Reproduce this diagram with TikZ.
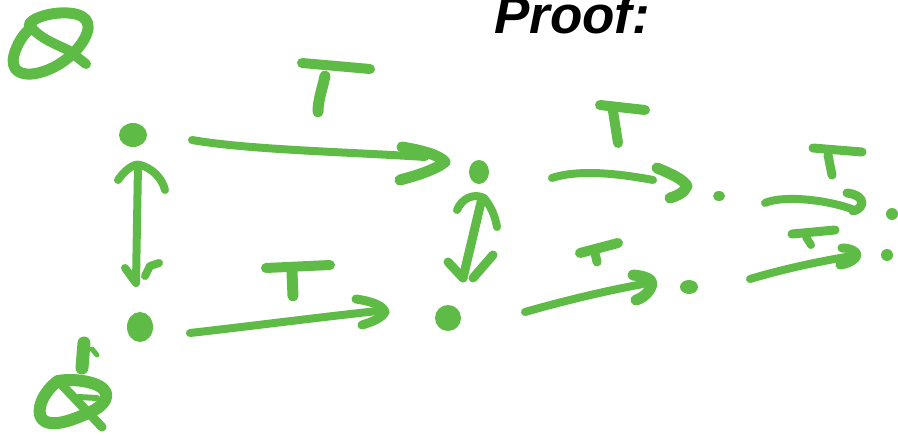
\documentclass[tikz,border=0pt]{standalone}
\usepackage{fontspec}
\setmainfont{Liberation Sans}
\definecolor{pen}{RGB}{94,187,70}
\tikzset{
  ink/.style={draw=pen, line width=#1, line cap=round, line join=round},
  ink/.default=9pt,
  blob/.style={fill=pen}
}
\begin{document}
\begin{tikzpicture}[x=1pt,y=-1pt]
\useasboundingbox (0,0) rectangle (898,436);
% title
\node[anchor=base west, inner sep=0pt, font=\fontsize{53}{53}\selectfont\bfseries\itshape] (title) at (494,34) {Proof:};

% top-left tensor symbol
\draw[ink=11pt] (32,28) .. controls (22,24) and (40,14) .. (60,13) .. controls (80,12) and (92,18) .. (87,33)
  .. controls (81,50) and (60,68) .. (38,73) .. controls (20,77) and (10,70) .. (14,55)
  .. controls (17,44) and (24,32) .. (32,28);
\draw[ink=10pt] (32,28) .. controls (40,38) and (55,44) .. (68,50) -- (86,64);

% bottom-left tensor symbol
\draw[ink=13pt] (84,343) -- (82,368);
\draw[ink=5pt] (92,349) -- (97,355);
\draw[ink=12pt] (58,381) .. controls (75,378) and (102,382) .. (106,393) .. controls (108,403) and (96,410) .. (86,414)
  .. controls (70,421) and (50,428) .. (42,419) .. controls (35,410) and (44,391) .. (58,381);
\draw[ink=9pt] (60,383) -- (102,427);
\draw[ink=6pt] (78,397) -- (97,398);

% dots
\fill[blob] (133,135) ellipse [x radius=14pt, y radius=12pt];
\fill[blob] (140,327) ellipse [x radius=13pt, y radius=15pt];
\fill[blob] (479,172) ellipse [x radius=10pt, y radius=12pt];
\fill[blob] (448,318) ellipse [x radius=13pt, y radius=13pt];
\fill[blob] (719,196) ellipse [x radius=6pt, y radius=5pt];
\fill[blob] (689,287) ellipse [x radius=9pt, y radius=7pt];
\fill[blob] (892,214) ellipse [x radius=6pt, y radius=6pt];
\fill[blob] (887,255) ellipse [x radius=6pt, y radius=6pt];

% vertical double arrow 1
\draw[ink=8pt] (138,165) -- (136,283);
\draw[ink=8pt] (118,180) .. controls (125,170) and (134,163) .. (140,165) .. controls (152,168) and (162,178) .. (165,190);
\draw[ink=8pt] (125,268) -- (136,283);
\draw[ink=8pt] (145,276) -- (150,266) -- (159,263);

% vertical double arrow 2
\draw[ink=9pt] (482,198) -- (463,278);
\draw[ink=8pt] (457,210) .. controls (462,198) and (474,193) .. (484,198) .. controls (490,205) and (495,215) .. (497,227);
\draw[ink=9pt] (448,262) -- (463,278);
\draw[ink=9pt] (493,255) -- (473,278);

% top arrow 1 with T
\draw[ink=8pt] (192,140) .. controls (250,150) and (350,152) .. (425,157);
\draw[ink=11pt] (402,147) .. controls (420,150) and (440,155) .. (445,162) .. controls (435,170) and (415,176) .. (400,180);
\draw[ink=10pt] (302,63) -- (370,69);
\draw[ink=11pt] (325,76) .. controls (322,90) and (318,100) .. (318,112);

% bottom arrow 1 with T
\draw[ink=8pt] (190,333) .. controls (260,325) and (330,316) .. (378,311);
\draw[ink=9pt] (356,299) .. controls (370,301) and (383,305) .. (385,312) .. controls (382,318) and (372,322) .. (362,325);
\draw[ink=10pt] (266,268) -- (330,265);
\draw[ink=11pt] (292,272) -- (293,296);

% top arrow 2 with T
\draw[ink=8pt] (552,178) .. controls (570,172) and (600,170) .. (653,180);
\draw[ink=11pt] (657,168) .. controls (672,174) and (684,180) .. (687,186) .. controls (685,192) and (677,196) .. (670,198);
\draw[ink=10pt] (600,105) -- (645,110);
\draw[ink=10pt] (613,111) -- (618,143);

% bottom arrow 2 with T
\draw[ink=8pt] (525,312) .. controls (560,302) and (600,292) .. (643,284);
\draw[ink=11pt] (633,275) .. controls (645,276) and (652,279) .. (652,284) .. controls (650,292) and (643,298) .. (636,300);
\draw[ink=10pt] (580,253) -- (618,243);
\draw[ink=9pt] (595,253) -- (597,262);

% top arrow 3 with T
\draw[ink=8pt] (765,203) .. controls (780,196) and (820,198) .. (852,209);
\draw[ink=9pt] (847,193) .. controls (856,194) and (862,198) .. (862,203) .. controls (861,208) and (857,210) .. (853,211);
\draw[ink=9pt] (813,148) -- (862,152);
\draw[ink=9pt] (828,155) -- (832,175);

% bottom arrow 3 with T
\draw[ink=8pt] (750,279) .. controls (780,270) and (815,262) .. (852,256);
\draw[ink=9pt] (842,248) .. controls (850,248) and (857,251) .. (857,255) .. controls (856,260) and (848,264) .. (840,265);
\draw[ink=9pt] (792,234) -- (835,230);
\draw[ink=8pt] (806,237) -- (811,245);
\end{tikzpicture}
\end{document}
